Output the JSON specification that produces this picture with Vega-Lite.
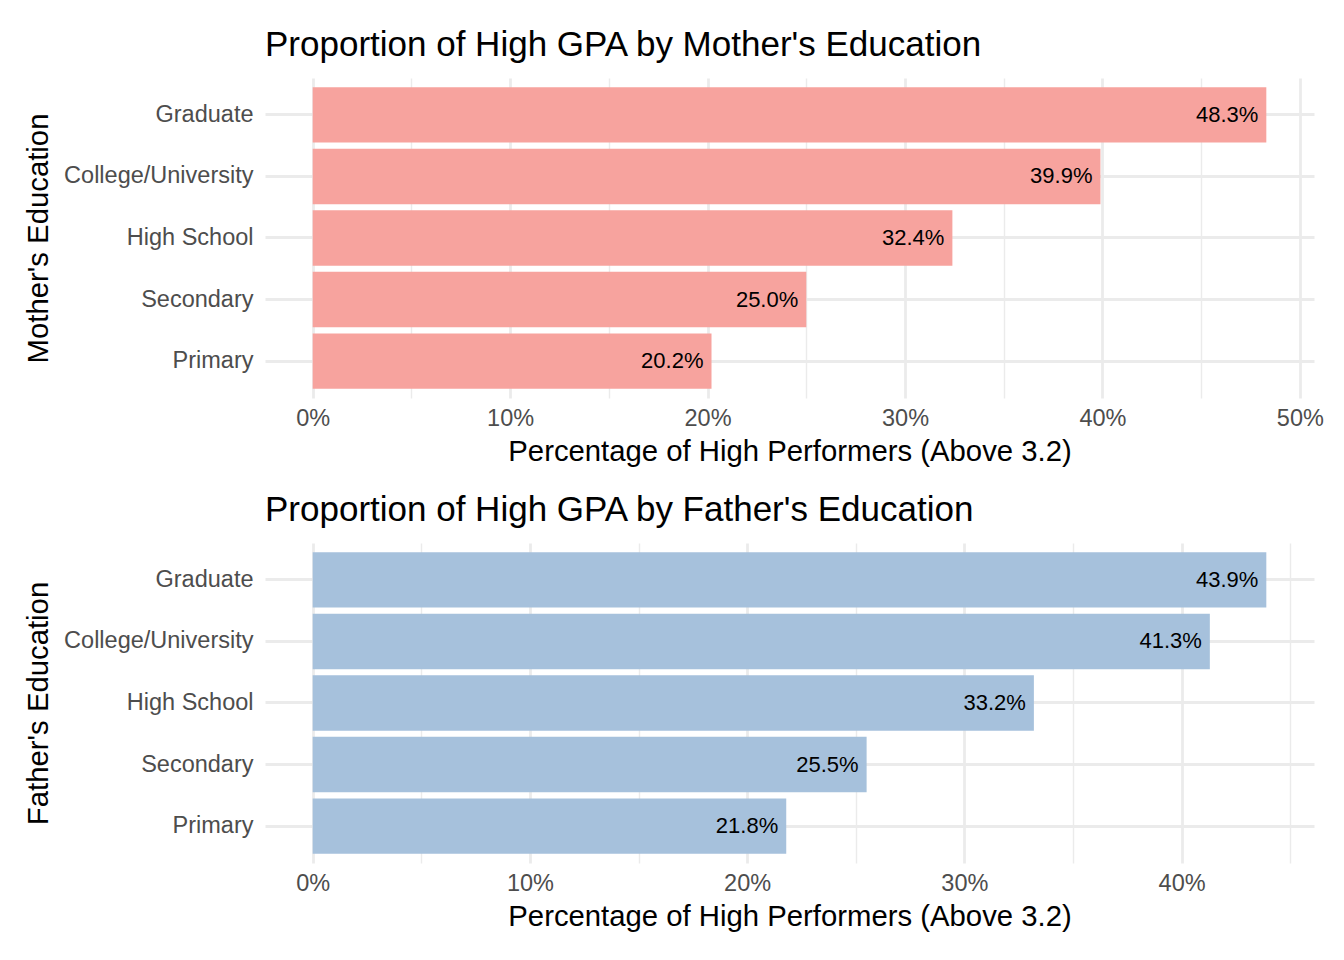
{
  "$schema": "https://vega.github.io/schema/vega-lite/v6.json",
  "padding": {"left": 24, "top": 28, "right": 20, "bottom": 10},
  "background": "white",
  "config": {
    "font": "Liberation Sans",
    "view": {"stroke": null},
    "title": {"anchor": "start", "frame": "group", "fontSize": 35, "fontWeight": "normal", "color": "#000000", "baseline": "alphabetic", "offset": 15},
    "axis": {
      "domain": false, "ticks": false, "labelLimit": 0,
      "labelFontSize": 23.5, "labelColor": "#4D4D4D", "labelFont": "Liberation Sans",
      "titleFontSize": 29.3, "titleFontWeight": "normal", "titleColor": "#000000", "titleFont": "Liberation Sans",
      "gridColor": "#EBEBEB", "gridWidth": 2.8
    },
    "concat": {"spacing": 26}
  },
  "vconcat": [
    {
      "title": "Proportion of High GPA by Mother's Education",
      "width": 1049,
      "height": 320,
      "data": {"values": [
        {"education": "Graduate", "pct": 48.3},
        {"education": "College/University", "pct": 39.9},
        {"education": "High School", "pct": 32.4},
        {"education": "Secondary", "pct": 25.0},
        {"education": "Primary", "pct": 20.2}
      ]},
      "transform": [{"calculate": "format(datum.pct, '.1f') + '%'", "as": "label"}],
      "encoding": {
        "y": {
          "field": "education", "type": "nominal",
          "sort": ["Graduate", "College/University", "High School", "Secondary", "Primary"],
          "scale": {"paddingInner": 0.1, "paddingOuter": 0.15},
          "axis": {"title": "Mother's Education", "grid": true, "bandPosition": 0.5, "labelPadding": 12, "titlePadding": 12}
        },
        "x": {
          "field": "pct", "type": "quantitative",
          "scale": {"domain": [-2.415, 50.715], "nice": false},
          "axis": {
            "title": "Percentage of High Performers (Above 3.2)",
            "values": [0, 5, 10, 15, 20, 25, 30, 35, 40, 45, 50],
            "labelExpr": "datum.value % 10 === 0 ? datum.value + '%' : ''",
            "labelFlush": false,
            "labelPadding": 8,
            "titlePadding": 8,
            "gridWidth": {"condition": {"test": "datum.value % 10 !== 0", "value": 1.4}, "value": 2.8}
          }
        }
      },
      "layer": [
        {"mark": {"type": "bar", "color": "#F7A39E"}, "encoding": {"x2": {"datum": 0}}},
        {"mark": {"type": "text", "align": "right", "baseline": "middle", "dx": -8, "fontSize": 22, "color": "#000000"},
         "encoding": {"text": {"field": "label", "type": "nominal"}}}
      ]
    },
    {
      "title": "Proportion of High GPA by Father's Education",
      "width": 1049,
      "height": 320,
      "data": {"values": [
        {"education": "Graduate", "pct": 43.9},
        {"education": "College/University", "pct": 41.3},
        {"education": "High School", "pct": 33.2},
        {"education": "Secondary", "pct": 25.5},
        {"education": "Primary", "pct": 21.8}
      ]},
      "transform": [{"calculate": "format(datum.pct, '.1f') + '%'", "as": "label"}],
      "encoding": {
        "y": {
          "field": "education", "type": "nominal",
          "sort": ["Graduate", "College/University", "High School", "Secondary", "Primary"],
          "scale": {"paddingInner": 0.1, "paddingOuter": 0.15},
          "axis": {"title": "Father's Education", "grid": true, "bandPosition": 0.5, "labelPadding": 12, "titlePadding": 12}
        },
        "x": {
          "field": "pct", "type": "quantitative",
          "scale": {"domain": [-2.195, 46.095], "nice": false},
          "axis": {
            "title": "Percentage of High Performers (Above 3.2)",
            "values": [0, 5, 10, 15, 20, 25, 30, 35, 40, 45],
            "labelExpr": "datum.value % 10 === 0 ? datum.value + '%' : ''",
            "labelFlush": false,
            "labelPadding": 8,
            "titlePadding": 8,
            "gridWidth": {"condition": {"test": "datum.value % 10 !== 0", "value": 1.4}, "value": 2.8}
          }
        }
      },
      "layer": [
        {"mark": {"type": "bar", "color": "#A6C1DC"}, "encoding": {"x2": {"datum": 0}}},
        {"mark": {"type": "text", "align": "right", "baseline": "middle", "dx": -8, "fontSize": 22, "color": "#000000"},
         "encoding": {"text": {"field": "label", "type": "nominal"}}}
      ]
    }
  ]
}
